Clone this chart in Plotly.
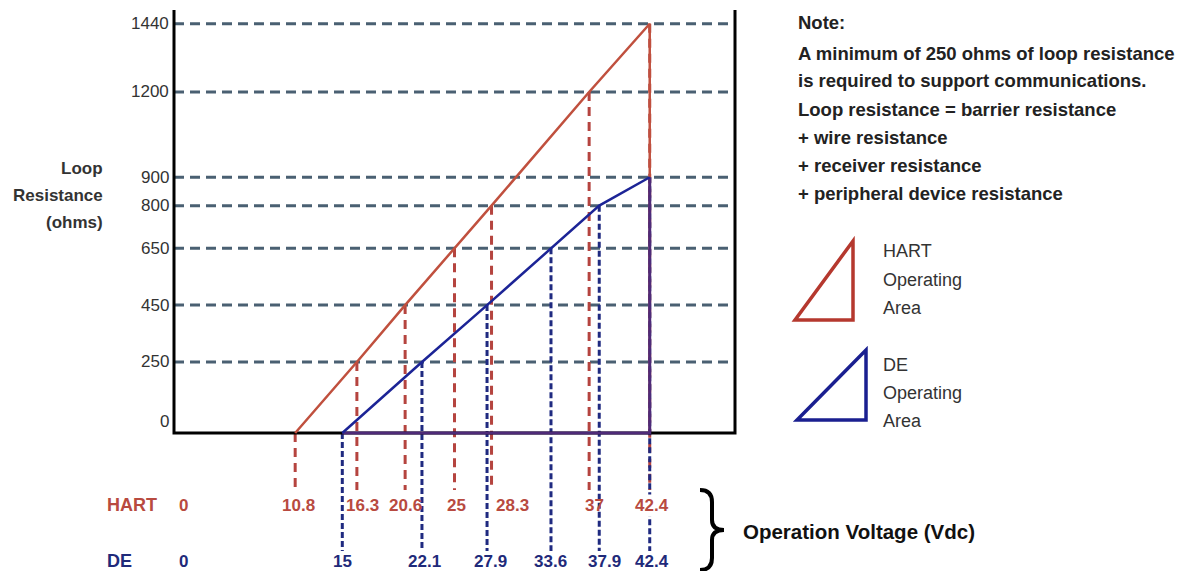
import plotly.graph_objects as go

# ---------------- data ----------------
hart_v = [10.8, 16.3, 20.6, 25, 28.3, 37, 42.4]
hart_r = [0, 250, 450, 650, 800, 1200, 1440]
de_v = [15, 22.1, 27.9, 33.6, 37.9, 42.4]
de_r = [0, 250, 450, 650, 800, 900]
y_ticks = [0, 250, 450, 650, 800, 900, 1200, 1440]
hart_label_v = [0, 10.8, 16.3, 20.6, 25, 28.3, 37, 42.4]
hart_label_txt = ["0", "10.8", "16.3", "20.6", "25", "28.3", "37", "42.4"]
de_label_v = [0, 15, 22.1, 27.9, 33.6, 37.9, 42.4]
de_label_txt = ["0", "15", "22.1", "27.9", "33.6", "37.9", "42.4"]
v_axis_max = 50
note_lines = [
    "Note:",
    "A minimum of 250 ohms of loop resistance",
    "is required to support communications.",
    "Loop resistance = barrier resistance",
    "+ wire resistance",
    "+ receiver resistance",
    "+ peripheral device resistance",
]
y_title_lines = ["Loop", "Resistance", "(ohms)"]

# ---------------- layout / style ----------------
# small pixel nudges so labels sit beside the dashed guide lines as in the original
hart_label_nudge = [9, 3, 6, 0, 2, 21, 5, 2]
de_label_nudge = [9, 0, 3, 3, 0, 5, 2]

W, H = 1182, 571
X0_PX, PX_PER_V = 174, 11.22
Y0_PX, PX_PER_R = 433, 0.2842
x_range = [-X0_PX / PX_PER_V, (W - X0_PX) / PX_PER_V]
y_range = [-(H - Y0_PX) / PX_PER_R, Y0_PX / PX_PER_R]


def r_of(py_):
    return (Y0_PX - py_) / PX_PER_R


def px(x):
    return x / W


def py(y):
    return 1 - y / H


r_top = r_of(10)
red_dash_bottom = r_of(490)
blue_dash_bottom = r_of(551)

FONT = "Liberation Sans"
C_GRID = "#4a6072"
C_RED = "#c0503e"
C_RED_DASH = "#b5443f"
C_BLUE = "#1c2496"
C_BLUE_DASH = "#1f2a80"
C_PURPLE = "#4e2a78"
C_HART_TXT = "#b84a40"
C_DE_TXT = "#1f2a7a"

fig = go.Figure()

# horizontal dashed gridlines
gx, gy = [], []
for t in y_ticks:
    if t == 0:
        continue
    gx += [0, v_axis_max, None]
    gy += [t, t, None]
fig.add_trace(go.Scatter(x=gx, y=gy, mode="lines",
                         line=dict(color=C_GRID, width=3, dash="10px,6px"),
                         hoverinfo="skip", showlegend=False))

# vertical dashed HART
hx, hy = [], []
for v, r in zip(hart_v, hart_r):
    hx += [v, v, None]
    hy += [r, red_dash_bottom, None]
fig.add_trace(go.Scatter(x=hx, y=hy, mode="lines",
                         line=dict(color=C_RED_DASH, width=3, dash="9px,6px"),
                         hoverinfo="skip", showlegend=False))

# vertical dashed DE
dx, dy = [], []
for v, r in zip(de_v, de_r):
    dx += [v, v, None]
    dy += [r, blue_dash_bottom, None]
fig.add_trace(go.Scatter(x=dx, y=dy, mode="lines",
                         line=dict(color=C_BLUE_DASH, width=3, dash="6px,3px"),
                         hoverinfo="skip", showlegend=False))

# axes box (left, bottom, right)
fig.add_trace(go.Scatter(x=[0, 0, v_axis_max, v_axis_max],
                         y=[r_top, 0, 0, r_top], mode="lines",
                         line=dict(color="black", width=3),
                         hoverinfo="skip", showlegend=False))

# HART operating area
fig.add_trace(go.Scatter(x=hart_v + [hart_v[-1]], y=hart_r + [0], mode="lines",
                         line=dict(color=C_RED, width=2.5),
                         hoverinfo="skip", showlegend=False))
# DE operating area
fig.add_trace(go.Scatter(x=[de_v[-1], de_v[-1], de_v[0]], y=[de_r[-1], 0, 0],
                         mode="lines", line=dict(color=C_PURPLE, width=3),
                         hoverinfo="skip", showlegend=False))
fig.add_trace(go.Scatter(x=de_v, y=de_r, mode="lines",
                         line=dict(color=C_BLUE, width=2.5),
                         hoverinfo="skip", showlegend=False))

ann = []
# y tick labels
for t in y_ticks:
    ann.append(dict(x=0, y=t, xref="x", yref="y", text=str(t), showarrow=False,
                    xanchor="right", yanchor="middle", xshift=-3,
                    yshift=12 if t == 0 else 0,
                    font=dict(family=FONT, size=17, color="#333333")))
# y title
for i, line in enumerate(y_title_lines):
    ann.append(dict(x=px(105), y=py([168, 196, 222][i]), xref="paper", yref="paper",
                    text="<b>%s</b>" % line, showarrow=False, xanchor="right",
                    yanchor="middle", font=dict(family=FONT, size=17, color="#333333")))

# bottom labels
ann.append(dict(x=px(105), y=py(505), xref="paper", yref="paper", text="<b>HART</b>",
                showarrow=False, xanchor="left", yanchor="middle",
                font=dict(family=FONT, size=18, color=C_HART_TXT)))
ann.append(dict(x=px(105), y=py(561), xref="paper", yref="paper", text="<b>DE</b>",
                showarrow=False, xanchor="left", yanchor="middle",
                font=dict(family=FONT, size=18, color=C_DE_TXT)))
for v, t, nd in zip(hart_label_v, hart_label_txt, hart_label_nudge):
    ann.append(dict(x=v, y=py(505), xref="x", yref="paper", text="<b>%s</b>" % t,
                    showarrow=False, xanchor="center", yanchor="middle",
                    xshift=nd, bgcolor="white" if v == hart_v[-1] else None,
                    font=dict(family=FONT, size=17, color=C_HART_TXT)))
for v, t, nd in zip(de_label_v, de_label_txt, de_label_nudge):
    ann.append(dict(x=v, y=py(561), xref="x", yref="paper", text="<b>%s</b>" % t,
                    showarrow=False, xanchor="center", yanchor="middle",
                    xshift=nd,
                    font=dict(family=FONT, size=17, color=C_DE_TXT)))

ann.append(dict(x=px(741), y=py(531), xref="paper", yref="paper",
                text="<b>Operation Voltage (Vdc)</b>", showarrow=False,
                xanchor="left", yanchor="middle",
                font=dict(family=FONT, size=20.5, color="#111111")))

# note
note_y = [23, 53, 81, 109, 137, 165, 193]
for yy, line in zip(note_y, note_lines):
    ann.append(dict(x=px(796), y=py(yy), xref="paper", yref="paper",
                    text="<b>%s</b>" % line, showarrow=False, xanchor="left",
                    yanchor="middle", font=dict(family=FONT, size=18.5, color="#222222")))

# legend texts
for yy, line in zip([251, 280, 308], ["HART", "Operating", "Area"]):
    ann.append(dict(x=px(881), y=py(yy), xref="paper", yref="paper", text=line,
                    showarrow=False, xanchor="left", yanchor="middle",
                    font=dict(family=FONT, size=18, color="#333333")))
for yy, line in zip([365, 393, 421], ["DE", "Operating", "Area"]):
    ann.append(dict(x=px(881), y=py(yy), xref="paper", yref="paper", text=line,
                    showarrow=False, xanchor="left", yanchor="middle",
                    font=dict(family=FONT, size=18, color="#333333")))


def path(points, close=False):
    s = " ".join(("M" if i == 0 else "L") + " %.5f,%.5f" % (px(a), py(b))
                 for i, (a, b) in enumerate(points))
    return s + (" Z" if close else "")


shapes = [
    dict(type="path", xref="paper", yref="paper",
         path=path([(795, 320), (853, 320), (853, 241)], True),
         line=dict(color="#b5382e", width=3.5)),
    dict(type="path", xref="paper", yref="paper",
         path=path([(797, 420), (866, 420), (866, 350)], True),
         line=dict(color="#1a1f90", width=3.5)),
]
# brace
b = "M %f,%f Q %f,%f %f,%f L %f,%f Q %f,%f %f,%f Q %f,%f %f,%f L %f,%f Q %f,%f %f,%f" % (
    px(700), py(490), px(712), py(490), px(712), py(502),
    px(712), py(520), px(712), py(530), px(724), py(530),
    px(712), py(530), px(712), py(540), px(712), py(558),
    px(712), py(570), px(700), py(570))
shapes.append(dict(type="path", xref="paper", yref="paper", path=b,
                   line=dict(color="black", width=4)))

fig.update_layout(
    width=W, height=H,
    margin=dict(l=0, r=0, t=0, b=0),
    paper_bgcolor="white", plot_bgcolor="white",
    xaxis=dict(range=x_range, visible=False, fixedrange=True),
    yaxis=dict(range=y_range, visible=False, fixedrange=True),
    annotations=ann, shapes=shapes, showlegend=False,
)

fig.write_html("out.html", config={"displayModeBar": False},
               post_script="document.body.style.margin='0';document.body.style.overflow='hidden';")
